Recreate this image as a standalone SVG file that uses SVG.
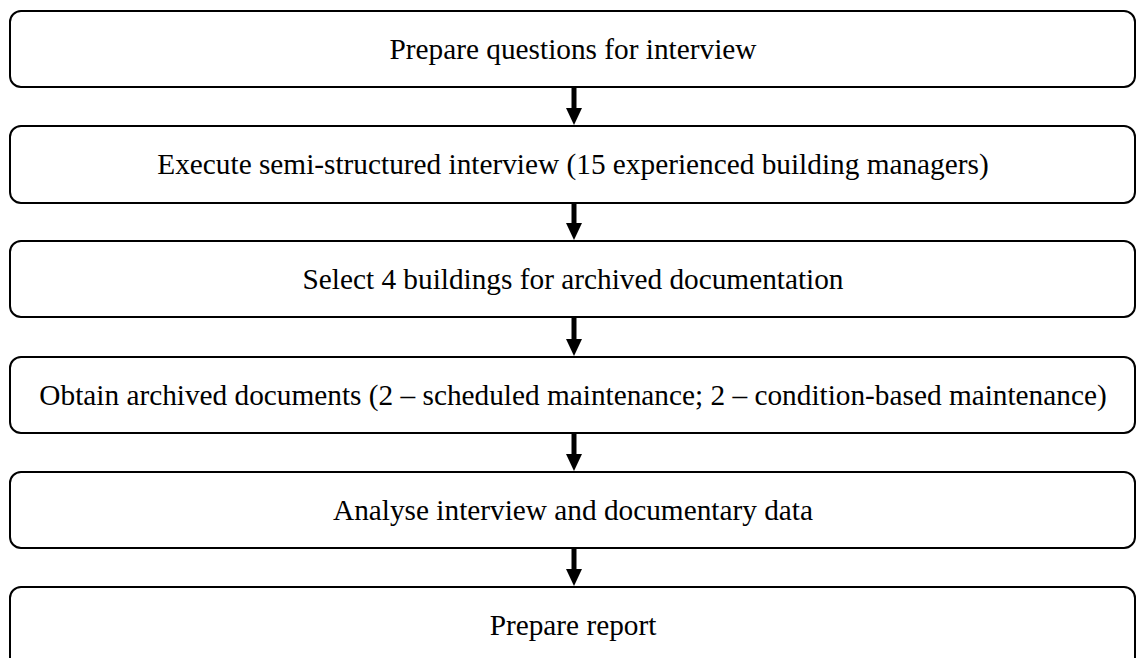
<svg xmlns="http://www.w3.org/2000/svg" width="1136" height="658" viewBox="0 0 1136 658">
  <style>
    .box { fill: #ffffff; stroke: #000000; stroke-width: 2; }
    .label { font-family: "Liberation Serif", "Times New Roman", serif; font-size: 29.3px; fill: #000000; text-anchor: middle; }
    .shaft { stroke: #000000; stroke-width: 5; fill: none; }
    .head { fill: #000000; }
  </style>
  <rect width="1136" height="658" fill="#ffffff"/>

  <!-- process steps, top to bottom -->
  <g id="step1">
    <rect class="box" x="10" y="11" width="1125" height="76" rx="11" ry="11"/>
    <text class="label" x="573" y="59">Prepare questions for interview</text>
  </g>
  <g id="step2">
    <rect class="box" x="10" y="126" width="1125" height="77" rx="11" ry="11"/>
    <text class="label" x="573" y="174">Execute semi-structured interview (15 experienced building managers)</text>
  </g>
  <g id="step3">
    <rect class="box" x="10" y="241" width="1125" height="76" rx="11" ry="11"/>
    <text class="label" x="573" y="289">Select 4 buildings for archived documentation</text>
  </g>
  <g id="step4">
    <rect class="box" x="10" y="357" width="1125" height="76" rx="11" ry="11"/>
    <text class="label" x="573" y="405">Obtain archived documents (2 – scheduled maintenance; 2 – condition-based maintenance)</text>
  </g>
  <g id="step5">
    <rect class="box" x="10" y="472" width="1125" height="76" rx="11" ry="11"/>
    <text class="label" x="573" y="520">Analyse interview and documentary data</text>
  </g>
  <g id="step6">
    <rect class="box" x="10" y="587" width="1125" height="90" rx="11" ry="11"/>
    <text class="label" x="573" y="635">Prepare report</text>
  </g>

  <!-- downward arrows between consecutive steps -->
  <g id="connectors">
    <line class="shaft" x1="574" y1="87" x2="574" y2="110"/>
    <polygon class="head" points="566,108 582,108 574,125"/>
    <line class="shaft" x1="574" y1="203" x2="574" y2="225"/>
    <polygon class="head" points="566,223 582,223 574,240"/>
    <line class="shaft" x1="574" y1="317" x2="574" y2="341"/>
    <polygon class="head" points="566,339 582,339 574,356"/>
    <line class="shaft" x1="574" y1="433" x2="574" y2="456"/>
    <polygon class="head" points="566,454 582,454 574,471"/>
    <line class="shaft" x1="574" y1="548" x2="574" y2="571"/>
    <polygon class="head" points="566,569 582,569 574,586"/>
  </g>
</svg>
